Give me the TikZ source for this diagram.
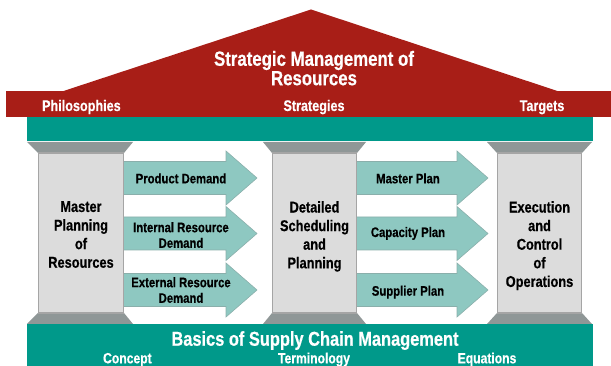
\documentclass[tikz,border=0pt]{standalone}
\usepackage{fontspec}
\setmainfont{Liberation Sans}[FakeStretch=0.82, BoldFeatures={FakeBold=0.5}]
\definecolor{roofred}{HTML}{A81E17}
\definecolor{teal}{HTML}{00998A}
\definecolor{arrowteal}{HTML}{8EC8C1}
\definecolor{arrowedge}{HTML}{8AAFAB}
\definecolor{capgray}{HTML}{8F9797}
\definecolor{bodygray}{HTML}{DCDCDC}
\definecolor{bodyedge}{HTML}{A5A5A5}
\tikzset{
  whitetxt/.style={text=white, inner sep=0pt, font=\bfseries},
  blacktxt/.style={text=black, inner sep=0pt, font=\bfseries},
  capital/.style={fill=capgray},
  pillarbody/.style={fill=bodygray, draw=bodyedge, line width=1.4pt},
  bigarrow/.style={fill=arrowteal, draw=arrowedge, line width=0.6pt},
}
\newcommand{\pillar}[4]{% #1 outer left, #2 inner left, #3 inner right, #4 outer right
  \fill[capital] (#1,142) -- (#4,142) -- (#3,153) -- (#2,153) -- cycle;
  \fill[capital] (#2,313) -- (#3,313) -- (#4,324) -- (#1,324) -- cycle;
  \draw[pillarbody] (#2+0.7,153) rectangle (#3-0.7,313);
}
\newcommand{\barrow}[4]{% #1 start x, #2 head base x, #3 tip x, #4 center y
  \draw[bigarrow] (#1,#4-16.5) -- (#2,#4-16.5) -- (#2,#4-27) -- (#3,#4) -- (#2,#4+27) -- (#2,#4+16.5) -- (#1,#4+16.5);
}
\begin{document}
\begin{tikzpicture}[x=1pt,y=-1pt]
\useasboundingbox (0,0) rectangle (611,366);
% roof
\fill[roofred] (62,91.5) -- (311,9.5) -- (559,91.5) -- cycle;
\fill[roofred] (6,91) rectangle (611,117);
\fill[teal] (26.5,117) rectangle (593,141.5);
% base
\fill[teal] (26.5,324) rectangle (593,366);
% pillars
\pillar{27}{38}{124}{133}
\pillar{263}{272}{357}{366}
\pillar{487}{497}{582}{592}
% arrows
\barrow{124}{226}{257}{178}
\barrow{124}{226}{257}{233.5}
\barrow{124}{226}{257}{290}
\barrow{357}{457}{488}{178}
\barrow{357}{457}{488}{233.5}
\barrow{357}{457}{488}{290}
% roof texts
\node[whitetxt, anchor=north, align=center, font=\fontsize{20.5}{17.7}\selectfont\bfseries] (title) at (314,50.7) {Strategic Management of\\Resources};
\node[whitetxt, anchor=base, font=\fontsize{15.4}{18}\selectfont\bfseries] (phil) at (81.4,111) {Philosophies};
\node[whitetxt, anchor=base, font=\fontsize{15.4}{18}\selectfont\bfseries] (strat) at (314,111) {Strategies};
\node[whitetxt, anchor=base, font=\fontsize{15.4}{18}\selectfont\bfseries] (targ) at (542,111) {Targets};
% pillar texts
\node[blacktxt, anchor=north, align=center, font=\fontsize{15.6}{18.6}\selectfont\bfseries] (mpr) at (81,201) {Master\\Planning\\of\\Resources};
\node[blacktxt, anchor=north, align=center, font=\fontsize{15.6}{18.6}\selectfont\bfseries] (dsp) at (314.5,201) {Detailed\\Scheduling\\and\\Planning};
\node[blacktxt, anchor=north, align=center, font=\fontsize{15.6}{18.6}\selectfont\bfseries] (eco) at (539.5,201) {Execution\\and\\Control\\of\\Operations};
% arrow texts
\node[blacktxt, anchor=base, font=\fontsize{13.8}{15.6}\selectfont\bfseries] (pd) at (181,183.3) {Product Demand};
\node[blacktxt, anchor=north, align=center, font=\fontsize{13.8}{15.6}\selectfont\bfseries] (ird) at (181,222) {Internal Resource\\Demand};
\node[blacktxt, anchor=north, align=center, font=\fontsize{13.8}{15.6}\selectfont\bfseries] (erd) at (181,277) {External Resource\\Demand};
\node[blacktxt, anchor=base, font=\fontsize{13.8}{15.6}\selectfont\bfseries] (mp) at (408,183.3) {Master Plan};
\node[blacktxt, anchor=base, font=\fontsize{13.8}{15.6}\selectfont\bfseries] (cp) at (408,237) {Capacity Plan};
\node[blacktxt, anchor=base, font=\fontsize{13.8}{15.6}\selectfont\bfseries] (sp) at (408,295.7) {Supplier Plan};
% base texts
\node[whitetxt, anchor=base, font=\fontsize{20}{20}\selectfont\bfseries] (basics) at (315,345.7) {Basics of Supply Chain Management};
\node[whitetxt, anchor=base, font=\fontsize{14.8}{16}\selectfont\bfseries] (concept) at (127.4,363.3) {Concept};
\node[whitetxt, anchor=base, font=\fontsize{14.8}{16}\selectfont\bfseries] (term) at (314,363.3) {Terminology};
\node[whitetxt, anchor=base, font=\fontsize{14.8}{16}\selectfont\bfseries] (equ) at (487,363.3) {Equations};
\end{tikzpicture}
\end{document}
